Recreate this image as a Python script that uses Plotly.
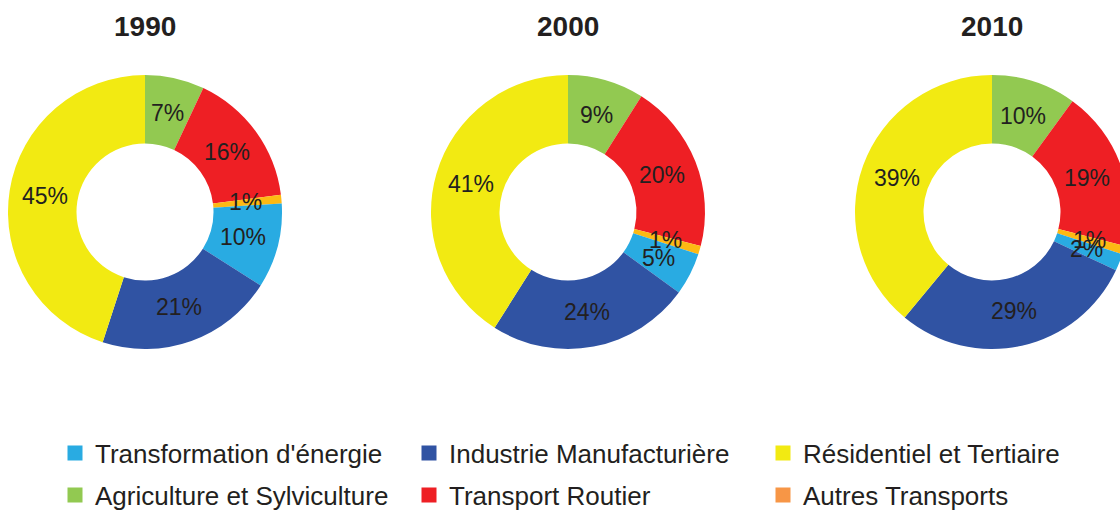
import math
import plotly.graph_objects as go

# ---- data ----
years = ["1990", "2000", "2010"]
sectors = ["Agriculture et Sylviculture", "Transport Routier", "Autres Transports",
           "Transformation d'énergie", "Industrie Manufacturière", "Résidentiel et Tertiaire"]
values_1990 = [7, 16, 1, 10, 21, 45]
values_2000 = [9, 20, 1, 5, 24, 41]
values_2010 = [10, 19, 1, 2, 29, 39]
all_values = [values_1990, values_2000, values_2010]

slice_colors = ["#92C951", "#EE1F24", "#FDB913", "#29ABE2", "#3053A3", "#F2EA12"]
legend_row1 = ["Transformation d'énergie", "Industrie Manufacturière", "Résidentiel et Tertiaire"]
legend_row2 = ["Agriculture et Sylviculture", "Transport Routier", "Autres Transports"]
legend_colors = {
    "Transformation d'énergie": "#29ABE2",
    "Industrie Manufacturière": "#3053A3",
    "Résidentiel et Tertiaire": "#F2EA12",
    "Agriculture et Sylviculture": "#92C951",
    "Transport Routier": "#EE1F24",
    "Autres Transports": "#F79646",
}

# ---- layout geometry ----
W, H = 1136, 511
centers_x = [145, 568, 992]
center_y = 212
R = 136
R_DOM = 137
HOLE = 0.5
FONT = "Liberation Sans, Arial, sans-serif"
TXT = "#231F20"

fig = go.Figure()
annotations = []

for yr, vals, cx in zip(years, all_values, centers_x):
    fig.add_trace(go.Pie(
        labels=sectors, values=vals, hole=HOLE, sort=False, direction="clockwise",
        rotation=0, marker=dict(colors=slice_colors, line=dict(width=0)),
        textinfo="none", hoverinfo="label+percent", showlegend=False,
        domain=dict(x=[(cx - R_DOM) / W, min(1.0, (cx + R_DOM) / W)],
                    y=[(H - (center_y + R_DOM)) / H, (H - (center_y - R_DOM)) / H]),
    ))
    annotations.append(dict(text="<b>%s</b>" % yr, x=cx / W, y=1 - 26 / H,
                            xref="paper", yref="paper", showarrow=False,
                            xanchor="center", yanchor="middle",
                            font=dict(size=28, color=TXT, family=FONT)))
    total = sum(vals)
    cum = 0
    r_lab = R * 0.745
    for v in vals:
        theta = 2 * math.pi * (cum + v / 2) / total
        cum += v
        px = cx + r_lab * math.sin(theta)
        py = center_y - r_lab * math.cos(theta)
        annotations.append(dict(text="%d%%" % round(100 * v / total), x=px / W, y=1 - py / H,
                                xref="paper", yref="paper", showarrow=False,
                                xanchor="center", yanchor="middle",
                                font=dict(size=23, color=TXT, family=FONT)))

for name in legend_row1 + legend_row2:
    fig.add_trace(go.Scatter(
        x=[None], y=[None], mode="markers", name=name,
        marker=dict(symbol="square", size=15, color=legend_colors[name]),
        legend="legend" if name in legend_row1 else "legend2",
        hoverinfo="skip",
    ))

leg_common = dict(orientation="h", xanchor="left", yanchor="middle",
                  xref="container", yref="container",
                  entrywidth=309, entrywidthmode="pixels",
                  font=dict(size=26, color=TXT, family=FONT),
                  bgcolor="rgba(0,0,0,0)", borderwidth=0, traceorder="normal")

fig.update_layout(
    width=W, height=H,
    margin=dict(l=0, r=0, t=0, b=0, autoexpand=False),
    paper_bgcolor="white", plot_bgcolor="white",
    xaxis=dict(visible=False), yaxis=dict(visible=False),
    annotations=annotations,
    legend=dict(x=55 / W, y=(H - 453) / H, **leg_common),
    legend2=dict(x=55 / W, y=(H - 495) / H, **leg_common),
)

fig.write_html(
    "out.html",
    config={"displayModeBar": False},
    post_script="document.body.style.margin='0';document.body.style.overflow='hidden';"
                "document.documentElement.style.overflow='hidden';",
)
